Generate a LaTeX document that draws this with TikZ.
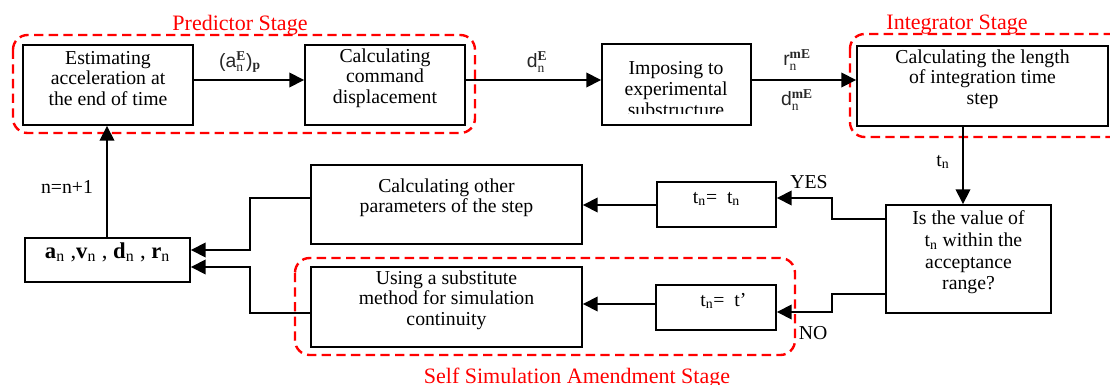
\documentclass[tikz,border=0pt]{standalone}
\usepackage{fontspec}
\setmainfont{Liberation Serif}
\newfontfamily\labfont{Liberation Sans}
\usetikzlibrary{arrows.meta,fit}

% process box spanning two corner points (pixel grid)
\newcommand\procbox[6]{\node[box, fit={(#2,#3) (#4,#5)}] (#1) {#6};}

\begin{document}
\begin{tikzpicture}[x=0.75pt,y=-0.75pt,
  box/.style={draw, line width=1.4pt, inner sep=0pt, align=center,
    font=\fontsize{14.8}{15.5}\selectfont},
  arr/.style={line width=1.1pt, -{Triangle[length=11pt,width=11pt]}},
  stage/.style={draw=red, line width=1.8pt, dash pattern=on 7pt off 4pt,
    rounded corners=11pt},
  stagelbl/.style={text=red, font=\fontsize{16.5}{18}\selectfont, anchor=base},
  edgelbl/.style={font=\fontsize{14.5}{16}\selectfont, text=black!85},
  txt/.style={font=\fontsize{14.8}{16}\selectfont},
]
\useasboundingbox (0,0) rectangle (1110,385);
\clip (0,0) rectangle (1110,385);

% ---- process boxes ----
\procbox{b1}{23}{45}{193}{125}{Estimating\\acceleration at\\the end of time}
\procbox{b2}{305}{45}{465}{125}{Calculating\\command\\displacement}
\node[box, fit={(602,44) (751,125)}] (b3) {};
\begin{scope}
  \clip (602,44) rectangle (751,113);
  \node[txt, align=center, font=\fontsize{14.8}{15.8}\selectfont] (b3t) at (676,89) {Imposing to\\experimental\\substructure};
\end{scope}
\procbox{b4}{857}{46}{1108}{126}{Calculating the length\\of integration time\\step}
\procbox{dec}{886}{205}{1051}{313}{\fontsize{14.8}{16.5}\selectfont Is the value of\\\ \ t\textsubscript{n} within the\\acceptance\\range?}
\procbox{ty}{657}{182}{776}{227}{t\textsubscript{n}=\ \ t\textsubscript{n}}
\procbox{tn}{656}{285}{776}{330}{\ \ \ t\textsubscript{n}=\ \ t'}
\procbox{co}{311}{165}{582}{244}{Calculating other\\parameters of the step}
\procbox{us}{311}{267}{582}{347}{Using a substitute\\method for simulation\\continuity}
\procbox{vr}{25}{238}{190}{282}{\fontsize{17}{18}\selectfont\textbf{a}\textsubscript{n} ,\textbf{v}\textsubscript{n} , \textbf{d}\textsubscript{n} , \textbf{r}\textsubscript{n}}

% ---- stage frames ----
\draw[stage] (13,35) rectangle (475,133);
\node[stagelbl] (lp) at (240,31) {Predictor Stage};
\draw[stage] (850,34) rectangle (1130,137);
\node[stagelbl] (li) at (957,30) {Integrator Stage};
\draw[stage] (295,258) rectangle (795,355);
\node[stagelbl] (ls) at (577,383) {Self Simulation Amendment Stage};

% ---- routing points ----
\coordinate (row) at (0,80);
\coordinate (xdown) at (963,0);
\coordinate (xup) at (107,0);
\coordinate (yesA) at (832,219);
\coordinate (yesB) at (832,198);
\coordinate (noA) at (832,294);
\coordinate (noB) at (832,312);
\coordinate (k1) at (250,198);
\coordinate (k2) at (250,250);
\coordinate (k3) at (250,313);
\coordinate (k4) at (250,267);
\coordinate (r2) at (0,205);
\coordinate (r3) at (0,304);

% ---- connectors ----
\draw[arr] (b1.east |- row) -- (b2.west |- row);
\draw[arr] (b2.east |- row) -- (b3.west |- row);
\draw[arr] (b3.east |- row) -- (b4.west |- row);
\draw[arr] (b4.south -| xdown) -- (dec.north -| xdown);
\draw[arr] (dec.west |- yesA) -- (yesA) -- (yesB) -- (ty.east |- yesB);
\draw[arr] (dec.west |- noA) -- (noA) -- (noB) -- (tn.east |- noB);
\draw[arr] (ty.west |- r2) -- (co.east |- r2);
\draw[arr] (tn.west |- r3) -- (us.east |- r3);
\draw[arr] (co.west |- k1) -- (k1) -- (k2) -- (vr.east |- k2);
\draw[arr] (us.west |- k3) -- (k3) -- (k4) -- (vr.east |- k4);
\draw[arr] (vr.north -| xup) -- (b1.south -| xup);

% ---- connector labels ----
\node[edgelbl] (l1) at (240,62) {{\labfont (a}$^{\mathbf{E}}_{\mathrm{n}}${\labfont )}$_{\mathbf{p}}$};
\node[edgelbl] (l2) at (537,62) {{\labfont d}$^{\mathbf{E}}_{\mathrm{n}}$};
\node[edgelbl] (l3) at (797,60) {{\labfont r}$^{\mathbf{mE}}_{\mathrm{n}}$};
\node[edgelbl] (l4) at (797,100) {{\labfont d}$^{\mathbf{mE}}_{\mathrm{n}}$};
\node[txt] (l5) at (943,162) {t\textsubscript{n}};
\node[txt] (l6) at (67,187) {n=n+1};
\node[txt] (l7) at (809,182) {YES};
\node[txt] (l8) at (813,333) {NO};
\end{tikzpicture}
\end{document}
